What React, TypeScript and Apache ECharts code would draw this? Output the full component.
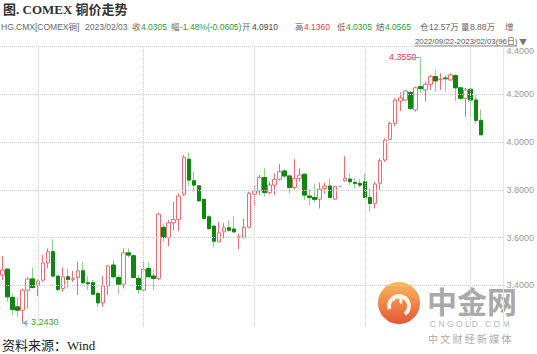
import React, { useEffect, useRef } from 'react';
import * as echarts from 'echarts';

// OHLC (96 trading days, 2022/09/22 - 2023/02/03)
const opens = [
  3.443, 3.468, 3.350, 3.310, 3.296, 3.380, 3.427, 3.400, 3.422, 3.494,
  3.541, 3.439, 3.387, 3.436, 3.425, 3.433, 3.461, 3.411, 3.411, 3.366,
  3.327, 3.398, 3.485, 3.433, 3.405, 3.536, 3.524, 3.429, 3.380, 3.471,
  3.439, 3.429, 3.643, 3.601, 3.662, 3.676, 3.781, 3.928, 3.838, 3.817,
  3.760, 3.687, 3.648, 3.582, 3.624, 3.641, 3.636, 3.601, 3.601, 3.643,
  3.782, 3.796, 3.852, 3.788, 3.820, 3.844, 3.879, 3.858, 3.810, 3.848,
  3.865, 3.774, 3.768, 3.761, 3.806, 3.816, 3.761, 3.813, 3.838, 3.845,
  3.831, 3.827, 3.834, 3.768, 3.743, 3.827, 3.925, 4.011, 4.078, 4.172,
  4.176, 4.208, 4.134, 4.232, 4.218, 4.242, 4.274, 4.261, 4.268, 4.260,
  4.278, 4.227, 4.183, 4.221, 4.176, 4.091,
];
const closes = [
  3.464, 3.352, 3.299, 3.296, 3.380, 3.427, 3.391, 3.418, 3.494, 3.541,
  3.439, 3.383, 3.436, 3.425, 3.428, 3.461, 3.411, 3.407, 3.363, 3.327,
  3.398, 3.481, 3.436, 3.405, 3.536, 3.527, 3.433, 3.383, 3.467, 3.436,
  3.429, 3.698, 3.601, 3.662, 3.676, 3.774, 3.936, 3.841, 3.820, 3.754,
  3.680, 3.638, 3.585, 3.620, 3.641, 3.631, 3.624, 3.603, 3.643, 3.785,
  3.796, 3.852, 3.789, 3.820, 3.844, 3.876, 3.858, 3.810, 3.848, 3.862,
  3.778, 3.768, 3.760, 3.803, 3.816, 3.768, 3.813, 3.813, 3.848, 3.834,
  3.827, 3.820, 3.768, 3.743, 3.824, 3.922, 4.008, 4.078, 4.176, 4.185,
  4.214, 4.141, 4.227, 4.224, 4.242, 4.274, 4.256, 4.263, 4.265, 4.281,
  4.227, 4.183, 4.218, 4.176, 4.091, 4.0305,
];
const lows = [
  3.422, 3.331, 3.275, 3.268, 3.243, 3.303, 3.387, 3.355, 3.415, 3.471,
  3.433, 3.373, 3.373, 3.387, 3.415, 3.359, 3.408, 3.380, 3.359, 3.310,
  3.310, 3.359, 3.429, 3.363, 3.387, 3.517, 3.429, 3.363, 3.377, 3.433,
  3.380, 3.422, 3.582, 3.564, 3.631, 3.628, 3.774, 3.816, 3.792, 3.750,
  3.673, 3.631, 3.559, 3.582, 3.597, 3.624, 3.620, 3.551, 3.597, 3.639,
  3.736, 3.778, 3.771, 3.782, 3.778, 3.838, 3.848, 3.785, 3.802, 3.834,
  3.757, 3.736, 3.750, 3.722, 3.785, 3.764, 3.757, 3.813, 3.834, 3.820,
  3.806, 3.810, 3.764, 3.708, 3.722, 3.799, 3.917, 4.008, 4.067, 4.130,
  4.172, 4.134, 4.127, 4.204, 4.169, 4.218, 4.211, 4.218, 4.211, 4.256,
  4.172, 4.176, 4.106, 4.106, 4.078, 4.0305,
];
const highs = [
  3.523, 3.472, 3.366, 3.352, 3.387, 3.433, 3.475, 3.425, 3.527, 3.555,
  3.592, 3.443, 3.475, 3.471, 3.460, 3.499, 3.499, 3.439, 3.422, 3.373,
  3.439, 3.485, 3.506, 3.443, 3.555, 3.555, 3.530, 3.443, 3.503, 3.499,
  3.467, 3.704, 3.659, 3.673, 3.750, 3.785, 3.946, 3.955, 3.876, 3.820,
  3.764, 3.694, 3.652, 3.666, 3.662, 3.673, 3.690, 3.615, 3.680, 3.792,
  3.816, 3.862, 3.890, 3.834, 3.869, 3.908, 3.886, 3.862, 3.928, 3.890,
  3.869, 3.802, 3.827, 3.830, 3.830, 3.848, 3.816, 3.813, 3.941, 3.869,
  3.848, 3.844, 3.869, 3.806, 3.834, 3.932, 4.015, 4.085, 4.183, 4.208,
  4.218, 4.211, 4.232, 4.355, 4.253, 4.281, 4.302, 4.288, 4.281, 4.288,
  4.284, 4.232, 4.227, 4.225, 4.197, 4.136,
];
const yTicks = [3.4, 3.6, 3.8, 4.0, 4.2, 4.4];
const holidayIndex = 67; // flat, no-trade day
const minIndex = 4;
const maxIndex = 83;
const minLabel = '3.2430';
const maxLabel = '4.3550';
const closedDays = ['2023/01/02'];

function tradingDates(): string[] {
  const out: string[] = [];
  const d = new Date(Date.UTC(2022, 8, 22));
  const end = Date.UTC(2023, 1, 3);
  while (d.getTime() <= end) {
    const wd = d.getUTCDay();
    const s = `${d.getUTCFullYear()}/${String(d.getUTCMonth() + 1).padStart(2, '0')}/${String(d.getUTCDate()).padStart(2, '0')}`;
    if (wd !== 0 && wd !== 6 && !closedDays.includes(s)) out.push(s);
    d.setUTCDate(d.getUTCDate() + 1);
  }
  return out;
}

const UP = '#f36c6c';
const DOWN_BODY = '#0d870d';
const DOWN_WICK = '#8fd08f';
const GREEN_TXT = '#2f9a2f';
const RED_TXT = '#e04545';
const GRAY_TXT = '#666';

export default function App() {
  const ref = useRef<HTMLDivElement>(null);
  useEffect(() => {
    document.body.style.margin = '0';
    const chart = echarts.init(ref.current!, null, { renderer: 'svg' });
    const dates = tradingDates();
    const cats = [...dates, 'p1', 'p2', 'p3', 'p4'];
    const monthStarts: string[] = [];
    dates.forEach((s, i) => {
      if (i > 0 && s.slice(5, 7) !== dates[i - 1].slice(5, 7)) monthStarts.push(s);
    });
    const holidayColor = '#8fb6dc';
    const full = dates.map((_, i) => {
      const v = [opens[i], closes[i], lows[i], highs[i]];
      if (i === holidayIndex)
        return { value: v, itemStyle: { color: holidayColor, color0: holidayColor, borderColor: holidayColor, borderColor0: holidayColor, borderColorDoji: holidayColor } };
      return v;
    });
    const bodies = dates.map((_, i) =>
      closes[i] < opens[i] ? [opens[i], closes[i], closes[i], opens[i]] : '-'
    );
    const dotted = { type: 'dotted' as const, color: '#cfcfcf', width: 1 };
    const grid = { left: 0, right: 33, top: 46.5, bottom: 28 };

    const info: [string, number, string][] = [
      ['HG.CMX[COMEX铜]', 1, GRAY_TXT],
      ['2023/02/03', 85, GRAY_TXT],
      ['收', 132, GRAY_TXT], ['4.0305', 141, GREEN_TXT],
      ['幅', 171, GRAY_TXT], ['-1.48%(-0.0605)', 180, GREEN_TXT],
      ['开', 242, GRAY_TXT], ['4.0910', 252, '#444'],
      ['高', 295, GRAY_TXT], ['4.1360', 304, RED_TXT],
      ['低', 337, GRAY_TXT], ['4.0305', 346, GREEN_TXT],
      ['结', 376, GRAY_TXT], ['4.0565', 385, GREEN_TXT],
      ['仓', 420, GRAY_TXT], ['12.57万', 429, GRAY_TXT],
      ['量', 461, GRAY_TXT], ['8.88万', 470, GRAY_TXT],
      ['增', 505, GRAY_TXT],
    ];
    const mixed = "'Liberation Sans', 'Noto Sans CJK SC', sans-serif";
    const sansCJK = "'Noto Sans CJK SC', 'Liberation Sans', sans-serif";
    const serif = "'Liberation Serif', 'Noto Sans CJK SC', serif";

    chart.setOption({
      animation: false,
      grid,
      xAxis: {
        type: 'category',
        data: cats,
        boundaryGap: true,
        axisLine: { show: false },
        axisTick: { show: false },
        axisLabel: { show: false },
        splitLine: { show: false },
      },
      yAxis: {
        type: 'value',
        position: 'right',
        min: 3.23,
        max: 4.4,
        splitLine: { show: false },
        axisLine: { show: true, lineStyle: { color: '#e4e4e4' } },
        axisTick: { show: false },
        axisLabel: {
          customValues: yTicks,
          formatter: (v: number) => v.toFixed(4),
          color: '#9a9a9a',
          fontSize: 9,
          fontFamily: "'Liberation Sans', sans-serif",
          margin: 3,
          verticalAlignMaxLabel: 'top',
        },
      },
      series: [
        {
          type: 'candlestick',
          data: full,
          barWidth: 4,
          itemStyle: {
            color: '#ffffff',
            color0: DOWN_WICK,
            borderColor: UP,
            borderColor0: DOWN_WICK,
            borderColorDoji: UP,
            borderWidth: 1,
          },
          markLine: {
            silent: true,
            symbol: ['none', 'none'],
            animation: false,
            label: { show: false },
            lineStyle: dotted,
            data: [
              ...yTicks.map((v) => ({ yAxis: v })),
              ...monthStarts.map((s) => ({ xAxis: s })),
              [
                { coord: [dates[minIndex], lows[minIndex]], symbol: 'arrow', symbolSize: 5, symbolRotate: 90 },
                { coord: [dates[minIndex + 1], lows[minIndex]], symbol: 'none' },
              ].map((p) => ({ ...p, lineStyle: { type: 'solid', color: '#79acd9', width: 1 } })),
              [
                { coord: [dates[maxIndex - 2], highs[maxIndex]], symbol: 'none' },
                { coord: [dates[maxIndex], highs[maxIndex]], symbol: 'none' },
              ].map((p) => ({ ...p, lineStyle: { type: 'solid', color: '#79acd9', width: 1 } })),
            ],
          },
        },
        {
          type: 'candlestick',
          data: bodies,
          barWidth: 4,
          itemStyle: {
            color: DOWN_BODY,
            color0: DOWN_BODY,
            borderColor: DOWN_BODY,
            borderColor0: DOWN_BODY,
            borderWidth: 1,
          },
        },
      ],
      graphic: [
        {
          type: 'text', left: 3, top: 3,
          style: { text: '图. COMEX 铜价走势', fontSize: 13, fontWeight: 'bold', fontFamily: serif, fill: '#333' },
        },
        ...info.map(([t, x, c]) => ({
          type: 'text', x, y: 27,
          style: { text: t, fontSize: 8.5, fontFamily: mixed, fill: c, verticalAlign: 'middle' },
        })),
        {
          type: 'text', x: 415, y: 41,
          style: { text: '2022/09/22-2023/02/03(96日)', fontSize: 7.8, fontFamily: mixed, fill: '#555', verticalAlign: 'middle' },
        },
        { type: 'line', shape: { x1: 415, y1: 46, x2: 517, y2: 46 }, style: { stroke: '#777', lineWidth: 1 } },
        {
          type: 'text', x: 519, y: 41,
          style: { text: '▼', fontSize: 8, fontFamily: sansCJK, fill: '#777', verticalAlign: 'middle' },
        },
        {
          type: 'text', x: 2, y: 345,
          style: { text: '资料来源：Wind', fontSize: 13, fontFamily: serif, fill: '#222', verticalAlign: 'middle' },
        },
        // min / max labels
        {
          type: 'text', x: 31, y: 322,
          style: { text: minLabel, fontSize: 9, fontFamily: "'Liberation Sans', sans-serif", fill: '#3aa03a', verticalAlign: 'middle' },
        },
        {
          type: 'text', x: 389, y: 57,
          style: { text: maxLabel, fontSize: 9, fontFamily: "'Liberation Sans', sans-serif", fill: RED_TXT, verticalAlign: 'middle' },
        },
        // watermark
        {
          type: 'group', z: 100,
          children: [
            {
              type: 'circle', shape: { cx: 399, cy: 303, r: 21 },
              style: {
                fill: new echarts.graphic.LinearGradient(0, 0, 0, 1, [
                  { offset: 0, color: '#f8b04c' },
                  { offset: 1, color: '#e2431f' },
                ]),
                opacity: 0.9,
              },
            },
            { type: 'arc', shape: { cx: 399, cy: 306, r: 10, startAngle: Math.PI * 0.9, endAngle: Math.PI * 2.3 }, style: { stroke: '#fff4e6', lineWidth: 4, fill: 'none' } },
            { type: 'arc', shape: { cx: 397, cy: 301, r: 4, startAngle: Math.PI * 1.0, endAngle: Math.PI * 2.2 }, style: { stroke: '#fff4e6', lineWidth: 3, fill: 'none' } },
            {
              type: 'text', x: 427, y: 300,
              style: { text: '中金网', fontSize: 30, fontWeight: 'bold', fontFamily: sansCJK, fill: '#a9a9a9', verticalAlign: 'middle', lineHeight: 30 },
            },
            {
              type: 'text', x: 430, y: 324,
              style: { text: 'C N G O L D . C O M', fontSize: 8.5, fontFamily: "'Liberation Sans', sans-serif", fill: '#b4b4b4', verticalAlign: 'middle' },
            },
            {
              type: 'text', x: 428, y: 338,
              style: { text: '中 文 财 经 新 媒 体', fontSize: 10, fontFamily: sansCJK, fill: '#aaaaaa', verticalAlign: 'middle' },
            },
          ],
        },
      ],
    });
    return () => chart.dispose();
  }, []);
  return <div ref={ref} style={{ position: 'absolute', left: 0, top: 0, width: 537, height: 354 }} />;
}
